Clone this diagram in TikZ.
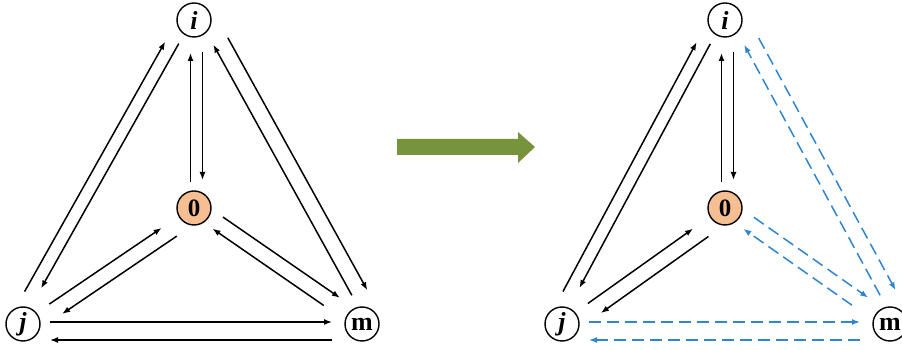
\documentclass[tikz,border=0pt]{standalone}
\usepackage{fontspec}
\setmainfont{Liberation Serif}
\usetikzlibrary{calc,arrows.meta}

\definecolor{nodeorange}{HTML}{F6BE93}
\definecolor{flowgreen}{HTML}{77933C}
\definecolor{dashblue}{HTML}{2E86D0}

\tikzset{
  vertex/.style={draw, circle, line width=1.4pt, minimum size=34pt, inner sep=0pt,
    font=\fontsize{26}{26}\selectfont\bfseries},
  depot/.style={vertex, fill=nodeorange, font=\fontsize{25}{25}\selectfont\bfseries},
  arr/.style={->, line width=1.5pt},
  dasharr/.style={arr, dashblue, dash pattern=on 12pt off 6pt},
}

% arrow from #2 to #3, moved #4 to the right of the centre line
\newcommand{\linkarrow}[4][]{%
  \draw[arr,#1] ($(#2.center)!#4!-90:(#3.center)$) -- ($(#3.center)!#4!90:(#2.center)$);}

\begin{document}
\begin{tikzpicture}[x=1pt, y=1pt, >={Latex[length=8pt,width=6pt]}]
\useasboundingbox (0,0) rectangle (902,350);

% Draw both graphs: before (L) and after (R)
\foreach \g/\xi/\xj/\xm/\ml in {L/194/23/362/arr, R/725/562/890/dasharr}{
  \node[vertex] (\g i) at (\xi,330) {\textit{i}};
  \node[depot]  (\g o) at (\xi,142) {0};
  \node[vertex] (\g j) at (\xj,26) {\textit{j}};
  \node[vertex] (\g m) at (\xm,26) {m};

  % Draw the links i -- j and i -- 0
  \linkarrow[shorten <=29pt, shorten >=33pt]{\g j}{\g i}{-14.5pt}
  \linkarrow[shorten <=28pt, shorten >=40pt]{\g i}{\g j}{1.7pt}
  \linkarrow[shorten <=26pt, shorten >=33pt]{\g o}{\g i}{-3.5pt}
  \linkarrow[shorten <=32pt, shorten >=28pt]{\g i}{\g o}{-8.5pt}

  % Draw the links 0 -- j
  \linkarrow[shorten <=33pt, shorten >=38pt]{\g j}{\g o}{-1.7pt}
  \linkarrow[shorten <=30pt, shorten >=38pt]{\g o}{\g j}{-13.6pt}

  % Draw the links to m
  \linkarrow[\ml, shorten <=32pt, shorten >=27pt]{\g i}{\g m}{-21pt}
  \linkarrow[\ml, shorten <=30pt, shorten >=31pt]{\g m}{\g i}{5pt}
  \linkarrow[\ml, shorten <=29pt, shorten >=33pt]{\g o}{\g m}{-9pt}
  \linkarrow[\ml, shorten <=42pt, shorten >=27pt]{\g m}{\g o}{-6.5pt}
  \linkarrow[\ml, shorten <=27pt, shorten >=30pt]{\g j}{\g m}{-2pt}
  \linkarrow[\ml, shorten <=30pt, shorten >=27pt]{\g m}{\g j}{-16pt}
}

% Draw the green arrow between the graphs
\fill[flowgreen] (397,195) -- (518,195) -- (518,187) -- (535,203)
  -- (518,218) -- (518,211) -- (397,211) -- cycle;

\end{tikzpicture}
\end{document}
